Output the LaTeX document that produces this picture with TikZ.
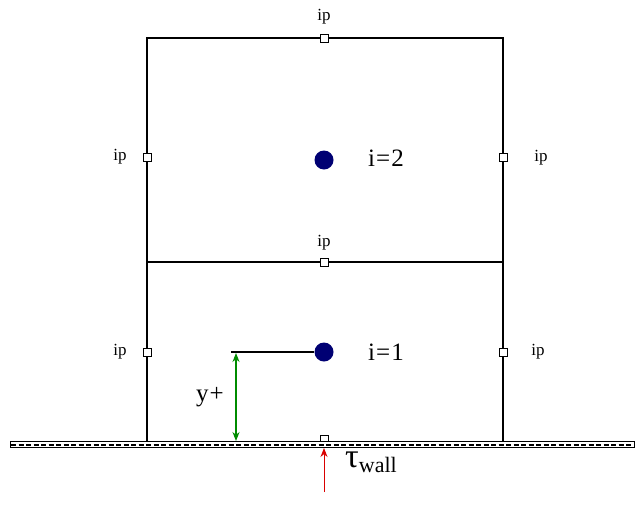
\documentclass[tikz,border=0pt]{standalone}
\usepackage{fontspec}
\setmainfont{Liberation Serif}
\usetikzlibrary{arrows.meta}
\begin{document}
\begin{tikzpicture}[x=1pt,y=-1pt,>={Stealth[length=9pt,width=7pt]}]
\useasboundingbox (0,0) rectangle (636,525);
\tikzset{ipbox/.style={draw, rectangle, fill=white, inner sep=0pt, minimum size=8pt, line width=0.9pt},
  iplab/.style={font=\fontsize{17}{19}\selectfont},
  cellc/.style={circle, fill=blue!45!black, inner sep=0pt, minimum size=19pt},
  cellab/.style={font=\fontsize{25}{27}\selectfont}}
% cell outlines
\coordinate (tl) at (147,38);
\coordinate (tr) at (503,38);
\coordinate (ml) at (147,262);
\coordinate (mr) at (503,262);
\coordinate (bl) at (147,441);
\coordinate (br) at (503,441);
\draw[line width=1.1pt] (bl) -- (tl) -- (tr) -- (br);
\draw[line width=1.1pt] (ml) -- (mr);
% wall
\draw[line width=0.9pt, fill=white] (10,441.5) rectangle (634,447.5);
\draw[line width=2pt, dash pattern=on 5pt off 2.5pt] (11,444.5) -- (633,444.5);
% integration points
\node[ipbox] (iptop) at (324,38) {};
\node[ipbox] (ipmid) at (324,262) {};
\node[ipbox] (ipl2) at (147,157) {};
\node[ipbox] (ipr2) at (503,157) {};
\node[ipbox] (ipl1) at (147,352) {};
\node[ipbox] (ipr1) at (503,352) {};
\node[ipbox, minimum height=6pt] (ipwall) at (324,438.5) {};
\node[iplab] at (324,17) {ip};
\node[iplab] at (324,243) {ip};
\node[iplab] at (120,157) {ip};
\node[iplab] at (541,158) {ip};
\node[iplab] at (120,352) {ip};
\node[iplab] at (538,352) {ip};
% cell centres
\node[cellc] (c2) at (324,160) {};
\node[cellc] (c1) at (324,352) {};
\node[cellab] at (386,158) {i\hspace{1pt}=\hspace{1pt}2};
\node[cellab] at (386,352) {i\hspace{1pt}=\hspace{1pt}1};
% wall distance
\coordinate (yp) at (231,352);
\draw[line width=1.1pt] (yp) -- (c1);
\draw[<->, green!55!black, line width=1.1pt] (236,353) -- (236,441);
\node[cellab] at (210,397) {y\hspace{1pt}+};
% wall shear stress
\coordinate (tw) at (324,492);
\draw[->, red!85!black, line width=0.9pt] (tw) -- (324,448);
\node[anchor=west, inner sep=0pt] at (345,462) {\fontsize{34}{36}\selectfont τ\raisebox{-5pt}{\fontsize{22}{24}\selectfont wall}};
\end{tikzpicture}
\end{document}
